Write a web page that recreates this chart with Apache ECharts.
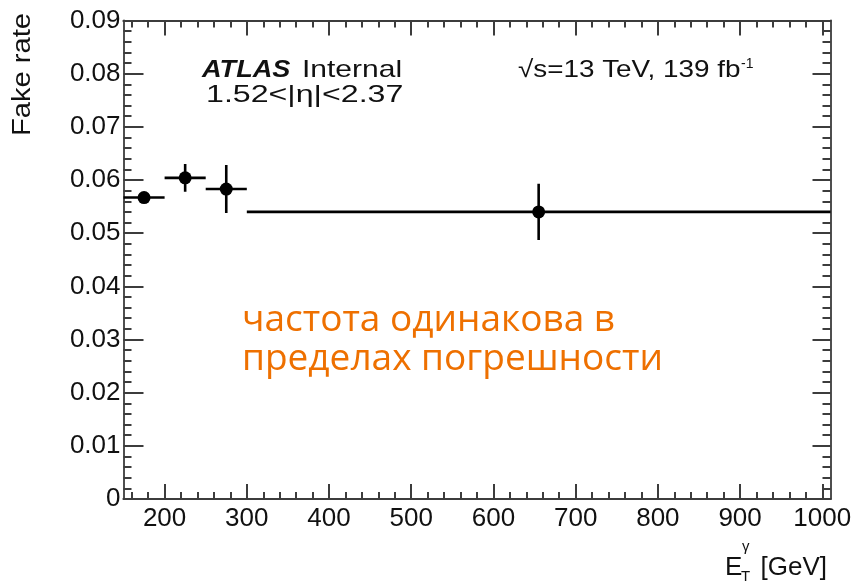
<!DOCTYPE html>
<html>
<head>
<meta charset="utf-8">
<title>Fake rate vs photon ET</title>
<script src="https://cdn.jsdelivr.net/npm/echarts@6/dist/echarts.min.js"></script>
<style>
  html, body { margin: 0; padding: 0; background: #fff; }
  #chart { width: 858px; height: 583px; }
</style>
</head>
<body>
<div id="chart"></div>
<script>
// Bins in photon transverse energy (GeV) and the measured fake rate per bin
const binLow    = [150, 200, 250, 300];
const binHigh   = [200, 250, 300, 1010];
const binCenter = [175, 225, 275, 655];
const fakeRate  = [0.0567, 0.0604, 0.0583, 0.0540];
const rateErr   = [0.0005, 0.0026, 0.0045, 0.0053];

// Axis tick positions
const xMajorTicks = [200, 300, 400, 500, 600, 700, 800, 900, 1000];
const xMinorTicks = [];
for (let v = 160; v <= 1000; v += 20) xMinorTicks.push(v);
const xRange = [150, 1010];
const yRange = [0, 0.09];
const yStep = 0.01;

const FONT = 'Liberation Sans';
const FRAME = '#3c3c3c';

const points = binCenter.map((c, i) => [binLow[i], binHigh[i], c, fakeRate[i], rateErr[i]]);

const chart = echarts.init(document.getElementById('chart'), null, { renderer: 'canvas' });

function xAxisDef(position, ticks, len, labels) {
  return {
    type: 'value', gridIndex: 0, position: position,
    min: xRange[0], max: xRange[1],
    axisLine: { show: true, onZero: false, lineStyle: { color: FRAME, width: 1.8 } },
    axisTick: { show: true, inside: true, length: len, customValues: ticks,
                lineStyle: { color: FRAME, width: 2 } },
    axisLabel: labels ? {
      show: true, customValues: xMajorTicks, fontFamily: FONT, fontSize: 26,
      color: '#111', margin: 7, formatter: v => String(v)
    } : { show: false },
    splitLine: { show: false }
  };
}

function yAxisDef(position, majorLen, labels) {
  return {
    type: 'value', gridIndex: 0, position: position,
    min: yRange[0], max: yRange[1], interval: yStep,
    axisLine: { show: true, onZero: false, lineStyle: { color: FRAME, width: 1.8 } },
    axisTick: { show: true, inside: true, length: majorLen, lineStyle: { color: FRAME, width: 2 } },
    minorTick: { show: true, splitNumber: 5, length: 8, lineStyle: { color: FRAME, width: 2 } },
    axisLabel: labels ? {
      show: true, fontFamily: FONT, fontSize: 26, color: '#111', margin: 3,
      formatter: v => (Math.abs(v) < 1e-9 ? '0' : v.toFixed(2))
    } : { show: false },
    splitLine: { show: false }, minorSplitLine: { show: false }
  };
}

function txt(x, y, text, size, opts) {
  opts = opts || {};
  return {
    type: 'text', x: x, y: y, rotation: opts.rotation || 0,
    scaleX: opts.scaleX || 1, scaleY: 1,
    style: {
      x: 0, y: 0, text: text,
      fontFamily: opts.family || FONT, fontSize: size,
      fontWeight: opts.weight || 'normal', fontStyle: opts.style || 'normal',
      fill: opts.color || '#111',
      textAlign: opts.align || 'left', textVerticalAlign: opts.valign || 'middle'
    },
    z: 100
  };
}

const option = {
  backgroundColor: '#fff',
  animation: false,
  grid: { left: 123.5, right: 27.5, top: 20.5, bottom: 84, containLabel: false },
  xAxis: [
    xAxisDef('bottom', xMajorTicks, 15, true),
    xAxisDef('bottom', xMinorTicks, 7, false),
    xAxisDef('top', xMajorTicks, 15, false),
    xAxisDef('top', xMinorTicks, 7, false)
  ],
  yAxis: [
    yAxisDef('left', 20, true),
    yAxisDef('right', 18, false)
  ],
  series: [{
    type: 'custom',
    xAxisIndex: 0, yAxisIndex: 0,
    data: points,
    clip: true,
    renderItem: function (params, api) {
      const y = api.value(3), e = api.value(4), xc = api.value(2);
      const lo = api.coord([api.value(0), y]);
      const hi = api.coord([api.value(1), y]);
      const c = api.coord([xc, y]);
      const top = api.coord([xc, y + e]);
      const bot = api.coord([xc, y - e]);
      const ls = { stroke: '#000', lineWidth: 2.6 };
      return {
        type: 'group',
        children: [
          { type: 'line', shape: { x1: lo[0], y1: lo[1], x2: hi[0], y2: hi[1] }, style: ls },
          { type: 'line', shape: { x1: top[0], y1: top[1], x2: bot[0], y2: bot[1] }, style: ls },
          { type: 'circle', shape: { cx: c[0], cy: c[1], r: 6.5 }, style: { fill: '#000' } }
        ]
      };
    }
  }],
  graphic: [
    // y-axis title
    txt(23, 13, 'Fake rate', 26, { rotation: Math.PI / 2, align: 'right', scaleX: 1.12 }),
    // x-axis title: E_T^gamma [GeV]
    txt(725, 568, 'E', 26),
    txt(741, 577, 'T', 15),
    txt(742, 547, '\u03b3', 15),
    txt(827, 568, '[GeV]', 26, { align: 'right' }),
    // experiment labels
    txt(202, 70, 'ATLAS', 24, { weight: 'bold', style: 'italic', scaleX: 1.13 }),
    txt(302, 70, 'Internal', 24, { scaleX: 1.25 }),
    txt(206, 95, '1.52<|\u03b7|<2.37', 24, { scaleX: 1.34 }),
    txt(518, 70, '\u221as=13 TeV, 139 fb', 24, { scaleX: 1.16 }),
    txt(741, 64, '-1', 14),
    // annotation
    txt(242, 320, 'частота одинакова в', 37, { family: 'Open Sans', color: '#EE7000' }),
    txt(242, 359, 'пределах погрешности', 37, { family: 'Open Sans', color: '#EE7000' })
  ]
};

chart.setOption(option);
</script>
</body>
</html>
